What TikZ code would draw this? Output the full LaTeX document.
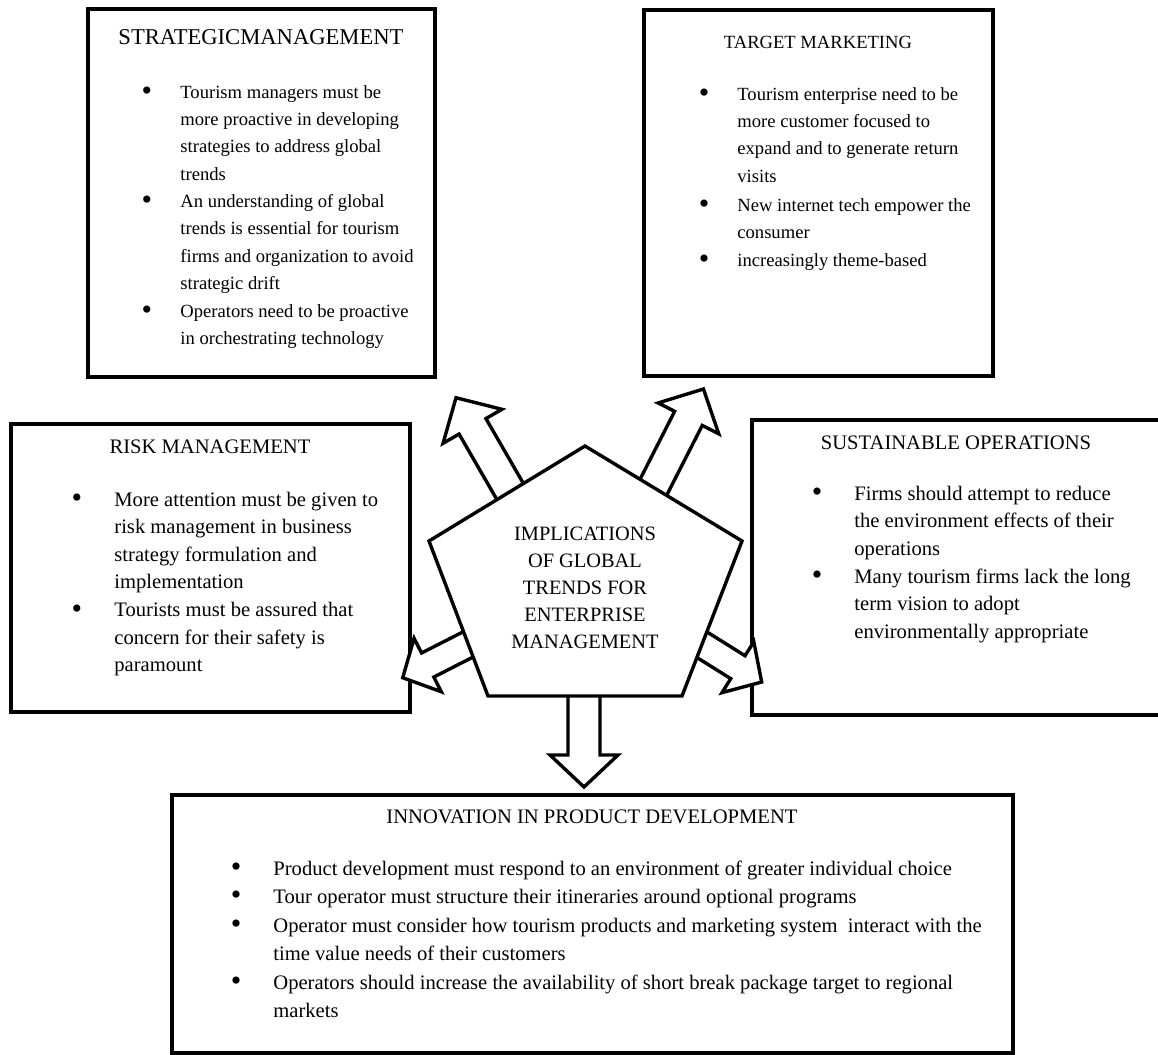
\documentclass[tikz,border=0pt]{standalone}
\usepackage{fontspec}
\setmainfont{Liberation Serif}
\usetikzlibrary{positioning}

\newcommand{\fsmall}{\fontsize{9.3pt}{13.7pt}\selectfont}
\newcommand{\fmid}{\fontsize{10.3pt}{13.75pt}\selectfont}
\newcommand{\fbottom}{\fontsize{10.3pt}{14.15pt}\selectfont}
\newcommand{\fpenta}{\fontsize{10.2pt}{13.5pt}\selectfont}
\newcommand{\ftitle}{\fontsize{11.3pt}{14pt}\selectfont}
\newcommand{\fdot}{\fontsize{15pt}{15pt}\selectfont}

\begin{document}
\begin{tikzpicture}[x=0.5pt,y=-0.5pt]
\tikzstyle{box}=[draw,line width=1.7pt]
\tikzstyle{block}=[draw,fill=white,line width=1.7pt,line join=miter]
\tikzstyle{heading}=[anchor=base,inner sep=0pt]
\tikzstyle{dot}=[anchor=center,inner sep=0pt,font=\fdot]
\tikzstyle{item}=[anchor=base west,inner sep=0pt,align=left]

\useasboundingbox (0,0) rectangle (1158,1055);

%strategic management box. (items are placed at the baseline of their last line)
\draw[box] (88,9) rectangle (435,377);
\node[heading,font=\ftitle] (strat_title) at (261,44) {STRATEGICMANAGEMENT};
\node[dot] (strat_dot1) at (147,93.5) {\textbullet};
\node[item,font=\fsmall] (strat_item1) at (180,180.2) {Tourism managers must be\\more proactive in developing\\strategies to address global\\trends};
\node[dot] (strat_dot2) at (147,203) {\textbullet};
\node[item,font=\fsmall] (strat_item2) at (180,289.7) {An understanding of global\\trends is essential for tourism\\firms and organization to avoid\\strategic drift};
\node[dot] (strat_dot3) at (147,312.5) {\textbullet};
\node[item,font=\fsmall] (strat_item3) at (180,344.4) {Operators need to be proactive\\in orchestrating technology};

%target marketing box.
\draw[box] (644,10) rectangle (993,376);
\node[heading,font=\fsmall] (target_title) at (818,48) {TARGET MARKETING};
\node[dot] (target_dot1) at (704,95.5) {\textbullet};
\node[item,font=\fsmall] (target_item1) at (737,182.2) {Tourism enterprise need to be\\more customer focused to\\expand and to generate return\\visits};
\node[dot] (target_dot2) at (704,206.5) {\textbullet};
\node[item,font=\fsmall] (target_item2) at (737,238.4) {New internet tech empower the\\consumer};
\node[dot] (target_dot3) at (704,261.5) {\textbullet};
\node[item,font=\fsmall] (target_item3) at (737,266) {increasingly theme-based};

%risk management box.
\draw[box] (11,424) rectangle (410,712);
\node[heading,font=\fmid] (risk_title) at (210,453) {RISK MANAGEMENT};
\node[dot] (risk_dot1) at (77,501) {\textbullet};
\node[item,font=\fmid] (risk_item1) at (114,588.5) {More attention must be given to\\risk management in business\\strategy formulation and\\implementation};
\node[dot] (risk_dot2) at (77,611.5) {\textbullet};
\node[item,font=\fmid] (risk_item2) at (114,671.5) {Tourists must be assured that\\concern for their safety is\\paramount};

%sustainable operations box.
\draw[box] (752,420) rectangle (1163,715);
\node[heading,font=\fmid] (sust_title) at (956,449) {SUSTAINABLE OPERATIONS};
\node[dot] (sust_dot1) at (817,495) {\textbullet};
\node[item,font=\fmid] (sust_item1) at (854,555) {Firms should attempt to reduce\\the environment effects of their\\operations};
\node[dot] (sust_dot2) at (817,578) {\textbullet};
\node[item,font=\fmid] (sust_item2) at (854,638) {Many tourism firms lack the long\\term vision to adopt\\environmentally appropriate};

%innovation box.
\draw[box] (172,795) rectangle (1013,1053);
\node[heading,font=\fbottom] (innov_title) at (592,823) {INNOVATION IN PRODUCT DEVELOPMENT};
\node[dot] (innov_dot1) at (236,870) {\textbullet};
\node[item,font=\fbottom] (innov_item1) at (273,875) {Product development must respond to an environment of greater individual choice};
\node[dot] (innov_dot2) at (236,898) {\textbullet};
\node[item,font=\fbottom] (innov_item2) at (273,903) {Tour operator must structure their itineraries around optional programs};
\node[dot] (innov_dot3) at (236,927) {\textbullet};
\node[item,font=\fbottom] (innov_item3) at (273,960.3) {Operator must consider how tourism products and marketing system\ \ interact with the\\time value needs of their customers};
\node[dot] (innov_dot4) at (236,984) {\textbullet};
\node[item,font=\fbottom] (innov_item4) at (273,1017.3) {Operators should increase the availability of short break package target to regional\\markets};

%block arrows out of the pentagon.
\coordinate (ul_base) at (511,493);
\coordinate (ur_base) at (653.5,487);
\coordinate (ll_base) at (466,645.5);
\coordinate (lr_base) at (704,646);
\coordinate (dn_base) at (584,697);

\begin{scope}[shift={(ul_base)},rotate=120]
\draw[block] (-10,-15.5) -- (77,-15.5) -- (77,-34) -- (110,0) -- (77,34) -- (77,15.5) -- (-10,15.5) -- cycle;
\end{scope}
\begin{scope}[shift={(ur_base)},rotate=63]
\draw[block] (-10,-15.5) -- (77,-15.5) -- (77,-34) -- (110,0) -- (77,34) -- (77,15.5) -- (-10,15.5) -- cycle;
\end{scope}
\begin{scope}[shift={(ll_base)},rotate=207]
\draw[block] (-10,-13.5) -- (43,-13.5) -- (43,-30) -- (71,0) -- (43,30) -- (43,13.5) -- (-10,13.5) -- cycle;
\end{scope}
\begin{scope}[shift={(lr_base)},rotate=328]
\draw[block] (-10,-13.5) -- (40,-13.5) -- (40,-30) -- (68,0) -- (40,30) -- (40,13.5) -- (-10,13.5) -- cycle;
\end{scope}
\begin{scope}[shift={(dn_base)},rotate=270]
\draw[block] (-10,-16) -- (58,-16) -- (58,-34) -- (90,0) -- (58,34) -- (58,16) -- (-10,16) -- cycle;
\end{scope}

%pentagon.
\coordinate (p_top) at (585,446);
\coordinate (p_ur) at (742,541);
\coordinate (p_br) at (682,696);
\coordinate (p_bl) at (488,696);
\coordinate (p_ul) at (429,541);
\draw[block] (p_top) -- (p_ur) -- (p_br) -- (p_bl) -- (p_ul) -- cycle;
\node[heading,font=\fpenta,align=center] (implications) at (585,648) {IMPLICATIONS\\OF GLOBAL\\TRENDS FOR\\ENTERPRISE\\MANAGEMENT};

\end{tikzpicture}
\end{document}
